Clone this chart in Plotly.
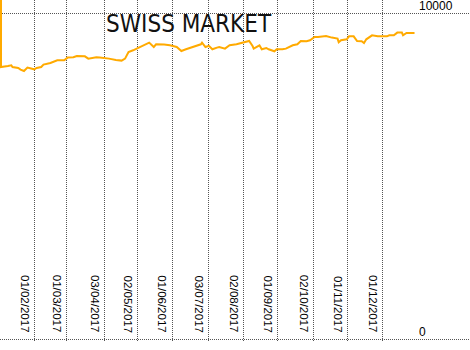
import plotly.graph_objects as go

# ---- data ----
dates = [
    "2017-01-03", "2017-01-03", "2017-01-09", "2017-01-12", "2017-01-13", "2017-01-18",
    "2017-01-20", "2017-01-23", "2017-01-26", "2017-01-30", "2017-02-01",
    "2017-02-03", "2017-02-07", "2017-02-09", "2017-02-15", "2017-02-21",
    "2017-02-27", "2017-03-02", "2017-03-07", "2017-03-10", "2017-03-15",
    "2017-03-17", "2017-03-20", "2017-03-27", "2017-03-30", "2017-04-03",
    "2017-04-07", "2017-04-13", "2017-04-18", "2017-04-21", "2017-04-24",
    "2017-04-28", "2017-05-03", "2017-05-08", "2017-05-12", "2017-05-16",
    "2017-05-18", "2017-05-25", "2017-05-30", "2017-06-05", "2017-06-09",
    "2017-06-13", "2017-06-19", "2017-06-22", "2017-06-26", "2017-06-27",
    "2017-06-30", "2017-07-03", "2017-07-06", "2017-07-10", "2017-07-12",
    "2017-07-17", "2017-07-21", "2017-07-27", "2017-08-01", "2017-08-07",
    "2017-08-10", "2017-08-11", "2017-08-16", "2017-08-18", "2017-08-22",
    "2017-08-24", "2017-08-29", "2017-08-31", "2017-09-05", "2017-09-08",
    "2017-09-14", "2017-09-18", "2017-09-21", "2017-09-26", "2017-09-29",
    "2017-10-03", "2017-10-06", "2017-10-13", "2017-10-18", "2017-10-23",
    "2017-10-24", "2017-10-26", "2017-10-31", "2017-11-02", "2017-11-06",
    "2017-11-09", "2017-11-13", "2017-11-15", "2017-11-17", "2017-11-22",
    "2017-11-27", "2017-12-01", "2017-12-05", "2017-12-07", "2017-12-11",
    "2017-12-14", "2017-12-18", "2017-12-19", "2017-12-22", "2017-12-27",
    "2017-12-29",
]
values = [
    10500, 8353, 8384, 8405, 8353, 8322,
    8273, 8230, 8334, 8304, 8282,
    8322, 8353, 8426, 8476, 8558,
    8558, 8641, 8650, 8690, 8690,
    8681, 8610, 8650, 8641, 8629,
    8610, 8568, 8549, 8610, 8813,
    8865, 8948, 9040, 9101, 8966,
    9049, 9040, 9019, 8966, 8844,
    8896, 8966, 9019, 9049, 9101,
    8966, 9000, 8896, 8948, 8966,
    8917, 9019, 9049, 9101, 9150,
    8996, 8917, 9019, 8896, 8936,
    8896, 8834, 8896, 8896, 8917,
    9019, 9049, 9150, 9141, 9172,
    9273, 9273, 9304, 9255, 9224,
    9110, 9172, 9202, 9294, 9294,
    9150, 9141, 9089, 9202, 9325,
    9294, 9294, 9294, 9325, 9325,
    9408, 9408, 9325, 9396, 9396,
    9396,
]
grid_dates = ["2017-02-01", "2017-03-01", "2017-04-03", "2017-05-02", "2017-06-01",
              "2017-07-03", "2017-08-02", "2017-09-01", "2017-10-02", "2017-11-01",
              "2017-12-01"]
grid_labels = ["01/02/2017", "01/03/2017", "03/04/2017", "02/05/2017", "01/06/2017",
               "03/07/2017", "02/08/2017", "01/09/2017", "02/10/2017", "01/11/2017",
               "01/12/2017"]
y_ticks = [0, 10000]
y_labels = ["0", "10000"]
title_text = "SWISS MARKET"

fig = go.Figure()
fig.add_trace(go.Scatter(x=dates, y=values, mode="lines",
                         line=dict(color="#FFAA00", width=2), hoverinfo="skip"))

annotations = []
for d, lab in zip(grid_dates, grid_labels):
    annotations.append(dict(x=d, y=0, xref="x", yref="y", text=lab, textangle=90,
                            showarrow=False, xanchor="right", yanchor="bottom",
                            xshift=-3, yshift=5, borderpad=0,
                            font=dict(family="Liberation Sans, Arial", size=11.5, color="#000")))
for v, lab in zip(y_ticks, y_labels):
    annotations.append(dict(x=420 / 470, y=v, xref="paper", yref="y", text=lab,
                            showarrow=False, xanchor="left", yanchor="middle",
                            xshift=-2, yshift=7, borderpad=0,
                            font=dict(family="Liberation Sans, Arial", size=12, color="#000")))
annotations.append(dict(x=104 / 470, y=1 - 24 / 341, xref="paper", yref="paper",
                        text=title_text, showarrow=False, xanchor="left", yanchor="middle",
                        font=dict(family="DejaVu Sans Condensed, DejaVu Sans", size=24,
                                  color="#111")))

fig.update_layout(
    width=470, height=350,
    margin=dict(l=0, r=0, t=0, b=9, pad=0),
    paper_bgcolor="white", plot_bgcolor="white",
    showlegend=False,
    annotations=annotations,
    xaxis=dict(type="date", range=["2017-01-02 03:00", "2018-02-15 07:00"],
               tickvals=grid_dates, showticklabels=False, ticks="",
               showgrid=True, gridcolor="#555555", griddash="1px,1px", gridwidth=1,
               zeroline=False, showline=False),
    yaxis=dict(range=[-52, 10408], tickvals=y_ticks, showticklabels=False, ticks="",
               showgrid=True, gridcolor="#555555", griddash="1px,1px", gridwidth=1,
               zeroline=False, showline=False),
)

fig.write_html("out.html")
